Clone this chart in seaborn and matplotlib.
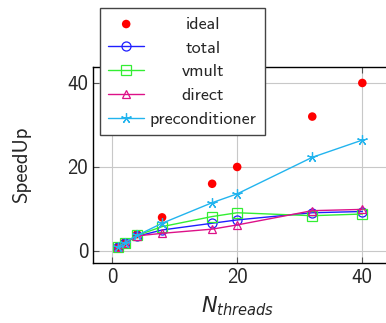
import matplotlib
matplotlib.use("Agg")
import matplotlib.pyplot as plt
import seaborn as sns
import pandas as pd

# data
threads = [1, 2, 4, 8, 16, 20, 32, 40]
ideal = [1, 2, 4, 8, 16, 20, 32, 40]
total = [1.0, 1.9, 3.5, 5.0, 6.6, 7.4, 9.1, 9.4]
vmult = [1.0, 2.0, 3.7, 5.8, 8.2, 9.1, 8.4, 8.8]
direct = [1.0, 1.9, 3.6, 4.2, 5.2, 6.2, 9.6, 9.9]
precond = [1.0, 2.0, 3.7, 6.6, 11.5, 13.6, 22.3, 26.4]

SERIES = [
    ("total", total, "o", 6.5, "#1f1fff"),
    ("vmult", vmult, "s", 6.5, "#33ee33"),
    ("direct", direct, "^", 5.5, "#dd1188"),
    ("preconditioner", precond, (5, 2, 0), 7.5, "#22b4ee"),
]

sns.set_style("ticks")
plt.rcParams["font.family"] = ["cmss10", "DejaVu Sans"]
plt.rcParams["axes.unicode_minus"] = False
plt.rcParams["mathtext.fontset"] = "custom"
plt.rcParams["mathtext.it"] = "DejaVu Sans:italic"
plt.rcParams["mathtext.rm"] = "DejaVu Sans"

fig = plt.figure(figsize=(3.86, 3.23), dpi=100)
ax = fig.add_axes([93 / 386, 60 / 323, 310 / 386, 196 / 323])

df = pd.DataFrame({"threads": threads, "ideal": ideal})
sns.scatterplot(data=df, x="threads", y="ideal", ax=ax, color="#ff0000",
                s=38, edgecolor="none", label="ideal", zorder=2)
for name, vals, mk, ms, col in SERIES:
    sns.lineplot(x=threads, y=vals, ax=ax, color=col, marker=mk,
                 markerfacecolor="none", markeredgecolor=col,
                 markersize=ms, markeredgewidth=0.9,
                 linewidth=1.0, label=name, zorder=3)

ax.set_xlim(-3.04, 46.5)
ax.set_ylim(-2.86, 43.8)
ax.set_xticks([0, 20, 40])
ax.set_yticks([0, 20, 40])
ax.grid(True, color="#c8c8c8", linewidth=0.8)
ax.tick_params(direction="in", length=4, labelsize=15, top=True, right=True,
               color="#555555")
for sp in ax.spines.values():
    sp.set_linewidth(1.0)
    sp.set_color("black")
ax.set_xlabel(r"$N_{threads}$", fontsize=15, labelpad=4)
ax.xaxis.set_label_coords(20, -0.16, transform=ax.get_xaxis_transform())
ax.set_ylabel("SpeedUp", fontsize=15, labelpad=26)

leg = ax.legend(loc="upper left", bbox_to_anchor=(100 / 386, 1 - 8 / 323),
                bbox_transform=fig.transFigure, borderaxespad=0,
                fontsize=13, frameon=True, fancybox=False, framealpha=1,
                edgecolor="#444444", handlelength=2.0, handletextpad=0.3,
                labelspacing=0.45, borderpad=0.45)
leg.get_frame().set_linewidth(1.0)

# labels are centred in their column in the original: redraw them centred
fig.canvas.draw()
texts = leg.get_texts()
boxes = [t.get_window_extent() for t in texts]
left = min(b.x0 for b in boxes)
maxw = max(b.width for b in boxes)
for t, b in zip(texts, boxes):
    t.set_alpha(0)
    fig.text(left + maxw / 2, (b.y0 + b.y1) / 2, t.get_text(),
             transform=None, ha="center", va="center", fontsize=13,
             zorder=10)

fig.savefig("out.png", dpi=100)
